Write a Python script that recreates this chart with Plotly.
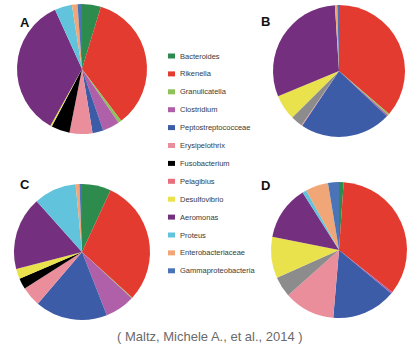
import plotly.graph_objects as go

W, H = 419, 363

# Categories in legend / slice order (clockwise from 12 o'clock)
categories = ["Bacteroides", "Rikenella", "Granulicatella", "Clostridium",
              "Peptostreptococceae", "Erysipelothrix", "Fusobacterium",
              "Pelagibius", "Unassigned", "Desulfovibrio", "Aeromonas", "Proteus",
              "Enterobacteriaceae", "Gammaproteobacteria"]
legend_categories = ["Bacteroides", "Rikenella", "Granulicatella", "Clostridium",
                     "Peptostreptococceae", "Erysipelothrix", "Fusobacterium",
                     "Pelagibius", "Desulfovibrio", "Aeromonas", "Proteus",
                     "Enterobacteriaceae", "Gammaproteobacteria"]

# Relative abundances (%)
values_A = [4.7, 35.0, 0.8, 4.2, 2.7, 5.7, 4.6, 0.0, 0.0, 0.4, 35.1, 4.3, 1.4, 1.1]
values_B = [0.0, 36.3, 0.4, 0.4, 22.4, 0.2, 0.0, 0.0, 2.9, 6.2, 30.3, 0.0, 0.6, 0.4]
values_C = [6.9, 29.8, 0.2, 7.1, 17.2, 4.7, 2.6, 0.0, 0.0, 2.4, 17.4, 10.1, 0.9, 0.6]
values_D = [1.1, 34.6, 0.0, 0.4, 15.3, 12.1, 0.0, 0.0, 4.9, 9.8, 12.9, 1.0, 5.4, 2.6]

panel_labels = ["A", "B", "C", "D"]
caption = "( Maltz, Michele A., et al., 2014 )"

colors = {
    "Bacteroides": "#2e8b4e",
    "Rikenella": "#e33b2f",
    "Granulicatella": "#8dc15a",
    "Clostridium": "#b060a8",
    "Peptostreptococceae": "#3d5ca8",
    "Erysipelothrix": "#ea8e9b",
    "Fusobacterium": "#000000",
    "Pelagibius": "#e8707c",
    "Unassigned": "#8c8c8c",
    "Desulfovibrio": "#e9e24c",
    "Aeromonas": "#74307e",
    "Proteus": "#62c4dc",
    "Enterobacteriaceae": "#f0a676",
    "Gammaproteobacteria": "#4a73b8",
}


def px_x(x):
    return x / W


def px_y(y):
    return 1 - y / H


# pie centres and radii in pixels
pies = [
    (values_A, 82, 69, 65),
    (values_B, 339, 71, 66),
    (values_C, 82, 252, 68),
    (values_D, 339, 250, 68),
]

fig = go.Figure()
for vals, cx, cy, r in pies:
    fig.add_trace(go.Pie(
        labels=categories,
        values=vals,
        sort=False,
        direction="clockwise",
        rotation=0,
        textinfo="none",
        hoverinfo="label+percent",
        marker=dict(colors=[colors[c] for c in categories], line=dict(width=0)),
        domain=dict(x=[px_x(cx - r), px_x(cx + r)], y=[px_y(cy + r), px_y(cy - r)]),
        showlegend=False,
    ))

annotations = []
shapes = []
# panel letters
for lab, (x, y) in zip(panel_labels, [(18, 13), (265, 12), (18, 184), (265, 185)]):
    annotations.append(dict(x=px_x(x), y=px_y(y), xref="paper", yref="paper",
                            text="<b>%s</b>" % lab, showarrow=False,
                            font=dict(family="Liberation Sans, Arial", size=13, color="#111")))

# legend
y0, dy = 56, 17.9
for i, c in enumerate(legend_categories):
    y = y0 + i * dy
    shapes.append(dict(type="rect", xref="paper", yref="paper",
                       x0=px_x(168), x1=px_x(175), y0=px_y(y + 2.5), y1=px_y(y - 2.5),
                       fillcolor=colors[c], line=dict(width=0)))
    annotations.append(dict(x=px_x(178), y=px_y(y), xref="paper", yref="paper",
                            xanchor="left", yanchor="middle", text=c, showarrow=False,
                            font=dict(family="Liberation Sans Narrow, Liberation Sans, Arial", size=7.5, color="#3a3a3a")))

annotations.append(dict(x=px_x(210), y=px_y(346), xref="paper", yref="paper",
                        text=caption, showarrow=False,
                        font=dict(family="Liberation Sans, Arial", size=13, color="#6a6a6a")))

fig.update_layout(width=W, height=H, margin=dict(l=0, r=0, t=0, b=0),
                  paper_bgcolor="white", plot_bgcolor="white",
                  annotations=annotations, shapes=shapes)

fig.write_html("out.html", config={"displayModeBar": False},
               post_script="document.body.style.margin='0';")
